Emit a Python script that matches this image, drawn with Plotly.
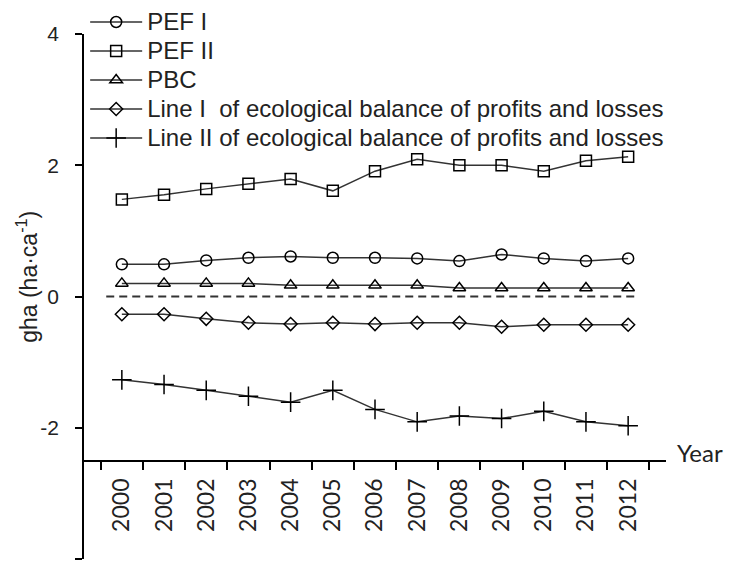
import plotly.graph_objects as go

years = [str(y) for y in range(2000, 2013)]

pef_1 = [0.49, 0.49, 0.55, 0.59, 0.61, 0.59, 0.59, 0.58, 0.54, 0.64, 0.58, 0.54, 0.58]
pef_2 = [1.48, 1.55, 1.64, 1.72, 1.79, 1.61, 1.91, 2.09, 2.00, 2.00, 1.91, 2.07, 2.13]
pbc = [0.20, 0.20, 0.20, 0.20, 0.17, 0.17, 0.17, 0.17, 0.13, 0.13, 0.13, 0.13, 0.13]
line_1 = [-0.27, -0.27, -0.34, -0.40, -0.42, -0.40, -0.42, -0.40, -0.40, -0.46, -0.43, -0.43, -0.43]
line_2 = [-1.27, -1.34, -1.43, -1.52, -1.61, -1.43, -1.72, -1.91, -1.82, -1.86, -1.75, -1.91, -1.97]

y_ticks = [4, 2, 0, -2, -4]

series = [
    ("PEF I", pef_1, "circle-open", 11),
    ("PEF II", pef_2, "square-open", 11),
    ("PBC", pbc, "triangle-up-open", 11),
    ("Line I  of ecological balance of profits and losses", line_1, "diamond-open", 10),
    ("Line II of ecological balance of profits and losses", line_2, "cross-thin-open", 14),
]

fig = go.Figure()
for name, vals, sym, size in series:
    fig.add_trace(go.Scatter(
        x=years, y=vals, mode="lines+markers",
        # bigger glyphs than the legend row spacing would give
        name='<span style="font-size:24px">' + name + "</span>",
        line=dict(color="#333333", width=1.5),
        marker=dict(symbol=sym, size=size, color="black",
                    line=dict(color="black", width=1.5)),
    ))

# dashed zero reference
fig.add_shape(type="line", xref="x", yref="y", x0=-0.37, x1=12.25, y0=0, y1=0,
              line=dict(color="#333333", width=2, dash="8px,5px"))

# page body adds an 8px offset, so the figure is 8px smaller each way
fig.update_layout(
    width=725, height=559,
    margin=dict(l=76, r=67, t=0, b=8, autoexpand=False),
    plot_bgcolor="white", paper_bgcolor="white",
    font=dict(family="Liberation Sans, Arial", size=20, color="#222222"),
    showlegend=True,
    legend=dict(x=0.002, y=1.01, xanchor="left", yanchor="top",
                font=dict(size=20, color="#222222"), itemwidth=52,
                bgcolor="rgba(0,0,0,0)", tracegroupgap=0),
)

fig.update_yaxes(
    range=[-4, 4], domain=[0, 0.9528], tickvals=y_ticks, ticktext=[str(v) for v in y_ticks],
    showline=True, linecolor="black", linewidth=1.5,
    ticks="outside", ticklen=7, tickcolor="black", tickwidth=1.5,
    showgrid=False, zeroline=False,
    tickfont=dict(size=21), ticklabelstandoff=12,
)

fig.update_xaxes(
    type="category", anchor="free", position=(-2.5 + 4) / 8 * 0.9528,
    showline=True, linecolor="black", linewidth=1.5,
    ticks="outside", tickson="boundaries", ticklen=9, tickcolor="black", tickwidth=1.5,
    showgrid=False, zeroline=False, tickangle=-90,
    tickfont=dict(family="Lato, Open Sans", size=23), ticklabelstandoff=8,
)

fig.add_annotation(text="gha (ha·ca<sup>-1</sup>)", xref="paper", yref="y",
                   x=-0.0979, y=0.3, textangle=-90,
                   xanchor="center", yanchor="middle", showarrow=False,
                   font=dict(size=23, color="#222222"))

fig.add_annotation(text="Year", xref="paper", yref="y", x=1.016, y=-2.38,
                   xanchor="left", yanchor="middle", showarrow=False,
                   font=dict(family="Lato, Open Sans", size=24, color="#222222"))

fig.write_html("out.html")
